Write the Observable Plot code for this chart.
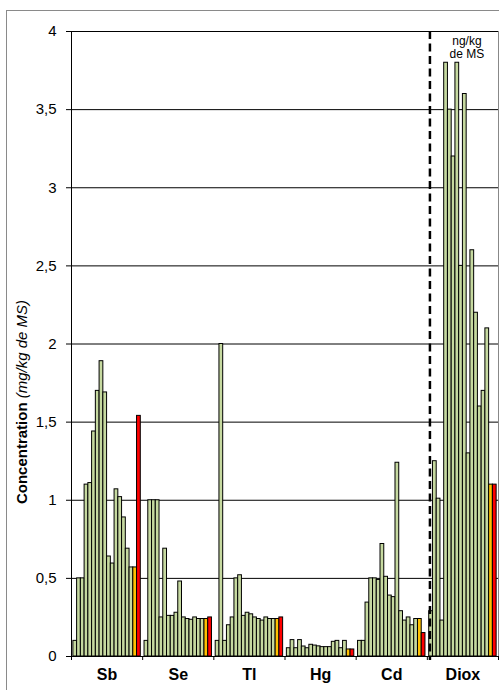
<!DOCTYPE html>
<html><head><meta charset="utf-8">
<script src="https://cdn.jsdelivr.net/npm/d3@7"></script>
<script src="https://cdn.jsdelivr.net/npm/@observablehq/plot@0.6"></script>
<style>
html,body{margin:0;padding:0;background:#fff;overflow:hidden;}
#wrap{position:relative;width:499px;height:690px;}
#frame{position:absolute;left:6px;top:10px;width:1000px;height:1000px;border-left:1px solid #8a8a8a;border-top:1px solid #8a8a8a;pointer-events:none;}
</style></head><body><div id="wrap"><div id="chart"></div><div id="frame"></div></div>
<script>
const groups = ["Sb","Se","Tl","Hg","Cd","Diox"];
const sb   = [0.10,0.50,0.50,1.10,1.11,1.44,1.70,1.89,1.69,0.64,0.595,1.07,1.02,0.89,0.69,0.57,0.57,1.54];
const se   = [0.10,1.00,1.00,1.00,0.25,0.69,0.26,0.26,0.28,0.48,0.25,0.24,0.235,0.25,0.24,0.24,0.24,0.25];
const tl   = [0.10,2.00,0.10,0.20,0.25,0.50,0.52,0.26,0.28,0.27,0.25,0.24,0.23,0.25,0.24,0.24,0.24,0.25];
const hg   = [0.053,0.105,0.053,0.105,0.064,0.053,0.075,0.07,0.065,0.06,0.06,0.06,0.094,0.10,0.053,0.10,0.045,0.045];
const cd   = [0.10,0.10,0.345,0.50,0.50,0.49,0.72,0.51,0.39,0.38,1.24,0.29,0.23,0.25,0.20,0.24,0.24,0.15];
const diox = [0.29,1.25,1.01,0.23,3.80,3.50,3.20,3.80,2.50,3.60,1.30,2.60,2.20,1.60,1.70,2.10,1.10,1.10];
const yTicks = [0,0.5,1,1.5,2,2.5,3,3.5,4];
const yLabelBold = "Concentration";
const yLabelItalic = "(mg/kg de MS)";
const noteLabel = "ng/kg\nde MS";

const series = [sb, se, tl, hg, cd, diox];
const n = sb.length;
const slots = n + 1;
const colors = {green: "#c6d9a0", orange: "#ffc000", red: "#ff0000"};
const data = groups.flatMap((g, gi) => series[gi].map((v, i) => ({
  group: g, gi, i, value: v,
  kind: i === n - 2 ? "orange" : i === n - 1 ? "red" : "green"
})));
const boundaries = d3.range(groups.length + 1).map(k => k * slots);
const centers = groups.map((g, gi) => gi * slots + slots / 2);
const dioxIndex = groups.indexOf("Diox");

const svg = Plot.plot({
  width: 499, height: 690,
  marginLeft: 71, marginRight: 1, marginTop: 31, marginBottom: 34,
  style: {fontFamily: "'Liberation Sans', Arial, sans-serif", color: "#000", background: "transparent"},
  x: {domain: [0, groups.length * slots], axis: null},
  y: {domain: [0, 4], axis: null},
  marks: [
    Plot.gridY(yTicks, {stroke: "#000", strokeOpacity: 1}),
    Plot.ruleX([groups.length * slots], {stroke: "#888"}),
    Plot.rect(data, {
      x1: d => d.gi * slots + 0.5 + d.i,
      x2: d => d.gi * slots + 1.5 + d.i,
      y1: 0, y2: "value",
      fill: d => colors[d.kind], stroke: "#000", strokeWidth: 1
    }),
    Plot.ruleY([0], {stroke: "#000"}),
    Plot.ruleX([0], {stroke: "#000"}),
    Plot.ruleX([dioxIndex * slots], {y1: 4, y2: 0, dx: 2.6, stroke: "#000", strokeWidth: 2.5, strokeDasharray: "8,4.5", insetBottom: -4}),
    Plot.axisY({ticks: yTicks, tickSize: 5, tickPadding: 10, tickFormat: d => String(d).replace(".", ","), fontSize: 15, label: null}),
    Plot.axisX({ticks: boundaries, tickSize: 4, tickFormat: () => "", label: null}),
    Plot.axisX({ticks: centers, tickSize: 0, tickPadding: 12, tickFormat: v => groups[Math.round((v - slots / 2) / slots)], fontSize: 16, fontWeight: "bold", label: null}),
    Plot.text([noteLabel], {x: () => centers[dioxIndex], y: () => 4, text: d => d, dx: 4, dy: 4, lineAnchor: "top", fontSize: 12, lineHeight: 1.1})
  ]
});

const lab = d3.select(svg).append("text")
  .attr("transform", "translate(27,402) rotate(-90)")
  .attr("text-anchor", "middle")
  .attr("font-size", 15)
  .attr("fill", "#000");
lab.append("tspan").attr("font-weight", "bold").text(yLabelBold + " ");
lab.append("tspan").attr("font-style", "italic").text(yLabelItalic);

document.getElementById("chart").appendChild(svg);
</script></body></html>
